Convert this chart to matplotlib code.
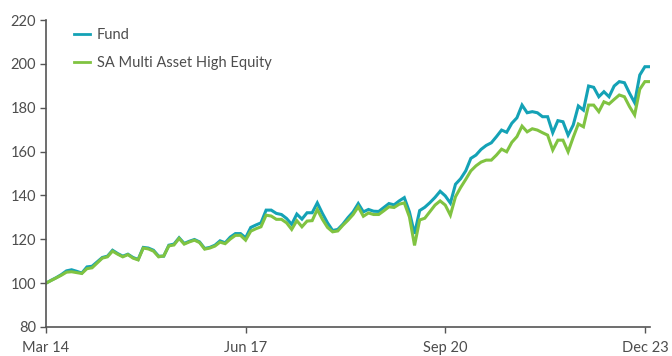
import matplotlib
matplotlib.use("Agg")
import matplotlib.pyplot as plt

# Monthly growth of 100 invested, Mar 2014 onwards
fund = [
    100.0, 101.3, 102.5, 103.9, 105.6, 106.1, 105.4, 104.6, 107.4, 107.7,
    109.7, 111.7, 112.3, 115.0, 113.5, 112.3, 113.2, 111.7, 110.8, 116.3,
    116.0, 115.0, 112.3, 112.3, 117.3, 117.8, 120.7, 118.1, 119.1, 119.9,
    118.8, 115.8, 116.3, 117.3, 119.3, 118.4, 121.0, 122.6, 122.6, 120.7,
    125.4, 126.5, 127.5, 133.3, 133.3, 131.8, 131.3, 129.5, 126.8, 131.5,
    129.2, 132.1, 132.1, 136.6, 131.8, 127.5, 124.0, 124.5, 126.9, 129.9,
    132.5, 136.3, 132.5, 133.6, 132.8, 132.7, 134.5, 136.3, 135.7, 137.5,
    139.0, 132.5, 122.5, 133.1, 134.6, 136.7, 139.1, 141.9, 139.8, 136.5,
    145.1, 147.6, 151.2, 156.9, 158.4, 161.0, 162.8, 164.0, 166.8, 169.8,
    168.8, 172.9, 175.4, 181.2, 177.7, 178.2, 177.7, 175.9, 175.9, 168.6,
    174.1, 173.6, 167.5, 172.1, 180.8, 178.9, 189.9, 189.3, 185.0, 187.3,
    185.0, 189.9, 191.9, 191.4, 186.6, 182.3, 194.9, 198.7, 198.7,
]

benchmark = [
    100.0, 101.2, 102.4, 103.6, 105.0, 105.2, 104.8, 104.4, 106.6, 107.0,
    109.2, 111.4, 112.0, 114.6, 113.2, 112.0, 113.0, 111.4, 110.6, 116.0,
    115.6, 114.6, 112.0, 112.4, 117.0, 117.4, 120.4, 117.8, 118.8, 119.6,
    118.5, 115.5, 116.0, 116.9, 118.7, 118.0, 120.1, 121.8, 121.8, 119.6,
    123.7, 124.8, 125.7, 131.0, 130.6, 129.1, 129.1, 127.5, 124.5, 128.5,
    125.7, 128.3, 128.5, 133.6, 129.1, 125.4, 123.4, 123.8, 126.4, 128.7,
    131.3, 134.8, 130.5, 132.0, 131.3, 131.3, 133.0, 134.8, 134.5, 136.0,
    136.6, 130.2, 117.2, 128.8, 129.6, 132.6, 135.6, 137.5, 135.6, 131.0,
    139.4, 143.6, 147.3, 151.2, 153.5, 155.2, 156.1, 156.1, 158.4, 161.1,
    159.9, 164.2, 166.8, 171.6, 169.0, 170.4, 169.8, 168.6, 167.5, 160.7,
    165.2, 165.2, 159.9, 166.5, 172.6, 171.3, 181.2, 181.2, 178.2, 182.7,
    181.7, 183.8, 185.8, 185.0, 180.5, 176.7, 188.4, 191.9, 191.9,
]

series_names = ["Fund", "SA Multi Asset High Equity"]
tick_positions = [0, 39, 78, 117]
tick_labels = ["Mar 14", "Jun 17", "Sep 20", "Dec 23"]
y_ticks = [80, 100, 120, 140, 160, 180, 200, 220]

plt.rcParams["font.family"] = ["Lato", "DejaVu Sans"]
text_color = "#4d4d4d"
axis_color = "#555555"

fig = plt.figure(figsize=(6.72, 3.56), dpi=100)
ax = fig.add_axes([46 / 672, 29 / 356, 604 / 672, 307 / 356])

months = list(range(len(fund)))
ax.plot(months, fund, color="#14a2b6", lw=2.2, label=series_names[0],
        solid_joinstyle="miter")
ax.plot(months, benchmark, color="#80c341", lw=2.2, label=series_names[1],
        solid_joinstyle="miter")

ax.set_xlim(0, len(fund) - 1)
ax.set_ylim(80, 220)
ax.set_yticks(y_ticks)
ax.set_xticks(tick_positions)
ax.set_xticklabels(tick_labels)

for side in ("top", "right"):
    ax.spines[side].set_visible(False)
for side in ("left", "bottom"):
    ax.spines[side].set_color(axis_color)
    ax.spines[side].set_linewidth(1.2)

ax.tick_params(axis="both", colors=axis_color, labelcolor=text_color,
               labelsize=10.5, length=4, width=1)
ax.tick_params(axis="y", pad=3)
ax.tick_params(axis="x", pad=6)

leg = ax.legend(loc="upper left", bbox_to_anchor=(0.037, 0.993), frameon=False,
                fontsize=10.5, handlelength=1.1, handletextpad=0.45,
                labelspacing=0.95, borderaxespad=0)
for text in leg.get_texts():
    text.set_color(text_color)
for line in leg.get_lines():
    line.set_linewidth(2.0)

fig.savefig("out.png", dpi=100)
